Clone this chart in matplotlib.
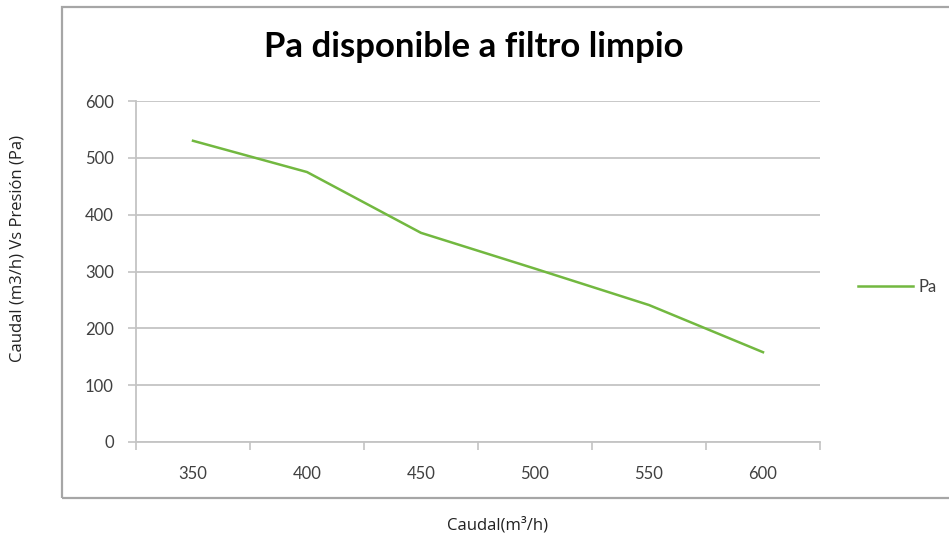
import matplotlib.pyplot as plt
from matplotlib.patches import Rectangle
import numpy as np

# datos
caudal = ['350', '400', '450', '500', '550', '600']
presion = [530, 475, 368, 305, 241, 158]
y_ticks = [0, 100, 200, 300, 400, 500, 600]

titulo = 'Pa disponible a filtro limpio'
etiqueta_y = 'Caudal (m3/h) Vs Presión (Pa)'
etiqueta_x = 'Caudal(m³/h)'
serie = 'Pa'

plt.rcParams['font.family'] = ['Lato', 'DejaVu Sans']

fig = plt.figure(figsize=(9.49, 5.4), dpi=100)
W, H = 949, 540

# area de grafico (marco gris tipo Excel)
fig.patches.append(Rectangle((62 / W, 1 - 498 / H), 1.2, (498 - 7) / H,
                             transform=fig.transFigure, fill=False,
                             edgecolor='#a6a6a6', linewidth=1.6))

ax = fig.add_axes([136 / W, 1 - 442 / H, (820 - 136) / W, (442 - 101) / H])

x = np.arange(len(caudal))
ax.plot(x, presion, color='#72b840', linewidth=1.8, label=serie)

ax.set_xlim(-0.5, len(caudal) - 0.5)
ax.set_ylim(0, 600)
ax.set_yticks(y_ticks)
ax.set_xticks(x)
ax.set_xticklabels(caudal)
ax.set_xticks(np.arange(-0.5, len(caudal)), minor=True)

ax.grid(axis='y', color='#c4c4c4', linewidth=1.3)
ax.set_axisbelow(True)
for s in ['top', 'right']:
    ax.spines[s].set_visible(False)
for s in ['left', 'bottom']:
    ax.spines[s].set_color('#c4c4c4')
    ax.spines[s].set_linewidth(1.3)

ax.tick_params(axis='x', which='major', length=0, pad=17, labelsize=12, labelcolor='#404040')
ax.tick_params(axis='x', which='minor', length=6, color='#c4c4c4', width=1.2)
ax.tick_params(axis='y', length=6, color='#c4c4c4', width=1.2, pad=10, labelsize=12, labelcolor='#404040')

fig.text(474 / W, 1 - 47 / H, titulo, ha='center', va='center',
         fontsize=25, fontweight='bold', color='black')

ax.legend(loc='center left', bbox_to_anchor=(858 / W, 1 - 287 / H),
          bbox_transform=fig.transFigure, frameon=False, fontsize=12,
          handlelength=3.3, handletextpad=0.3, borderpad=0, borderaxespad=0,
          labelcolor='#404040')

fig.text(18 / W, 1 - 248 / H, etiqueta_y, rotation=90, ha='center', va='center',
         fontsize=12, color='#222222', family=['Open Sans', 'DejaVu Sans'])
fig.text(497 / W, 1 - 525 / H, etiqueta_x, ha='center', va='center',
         fontsize=12, color='#222222', family=['Open Sans', 'DejaVu Sans'])

fig.savefig('out.png', dpi=100)
